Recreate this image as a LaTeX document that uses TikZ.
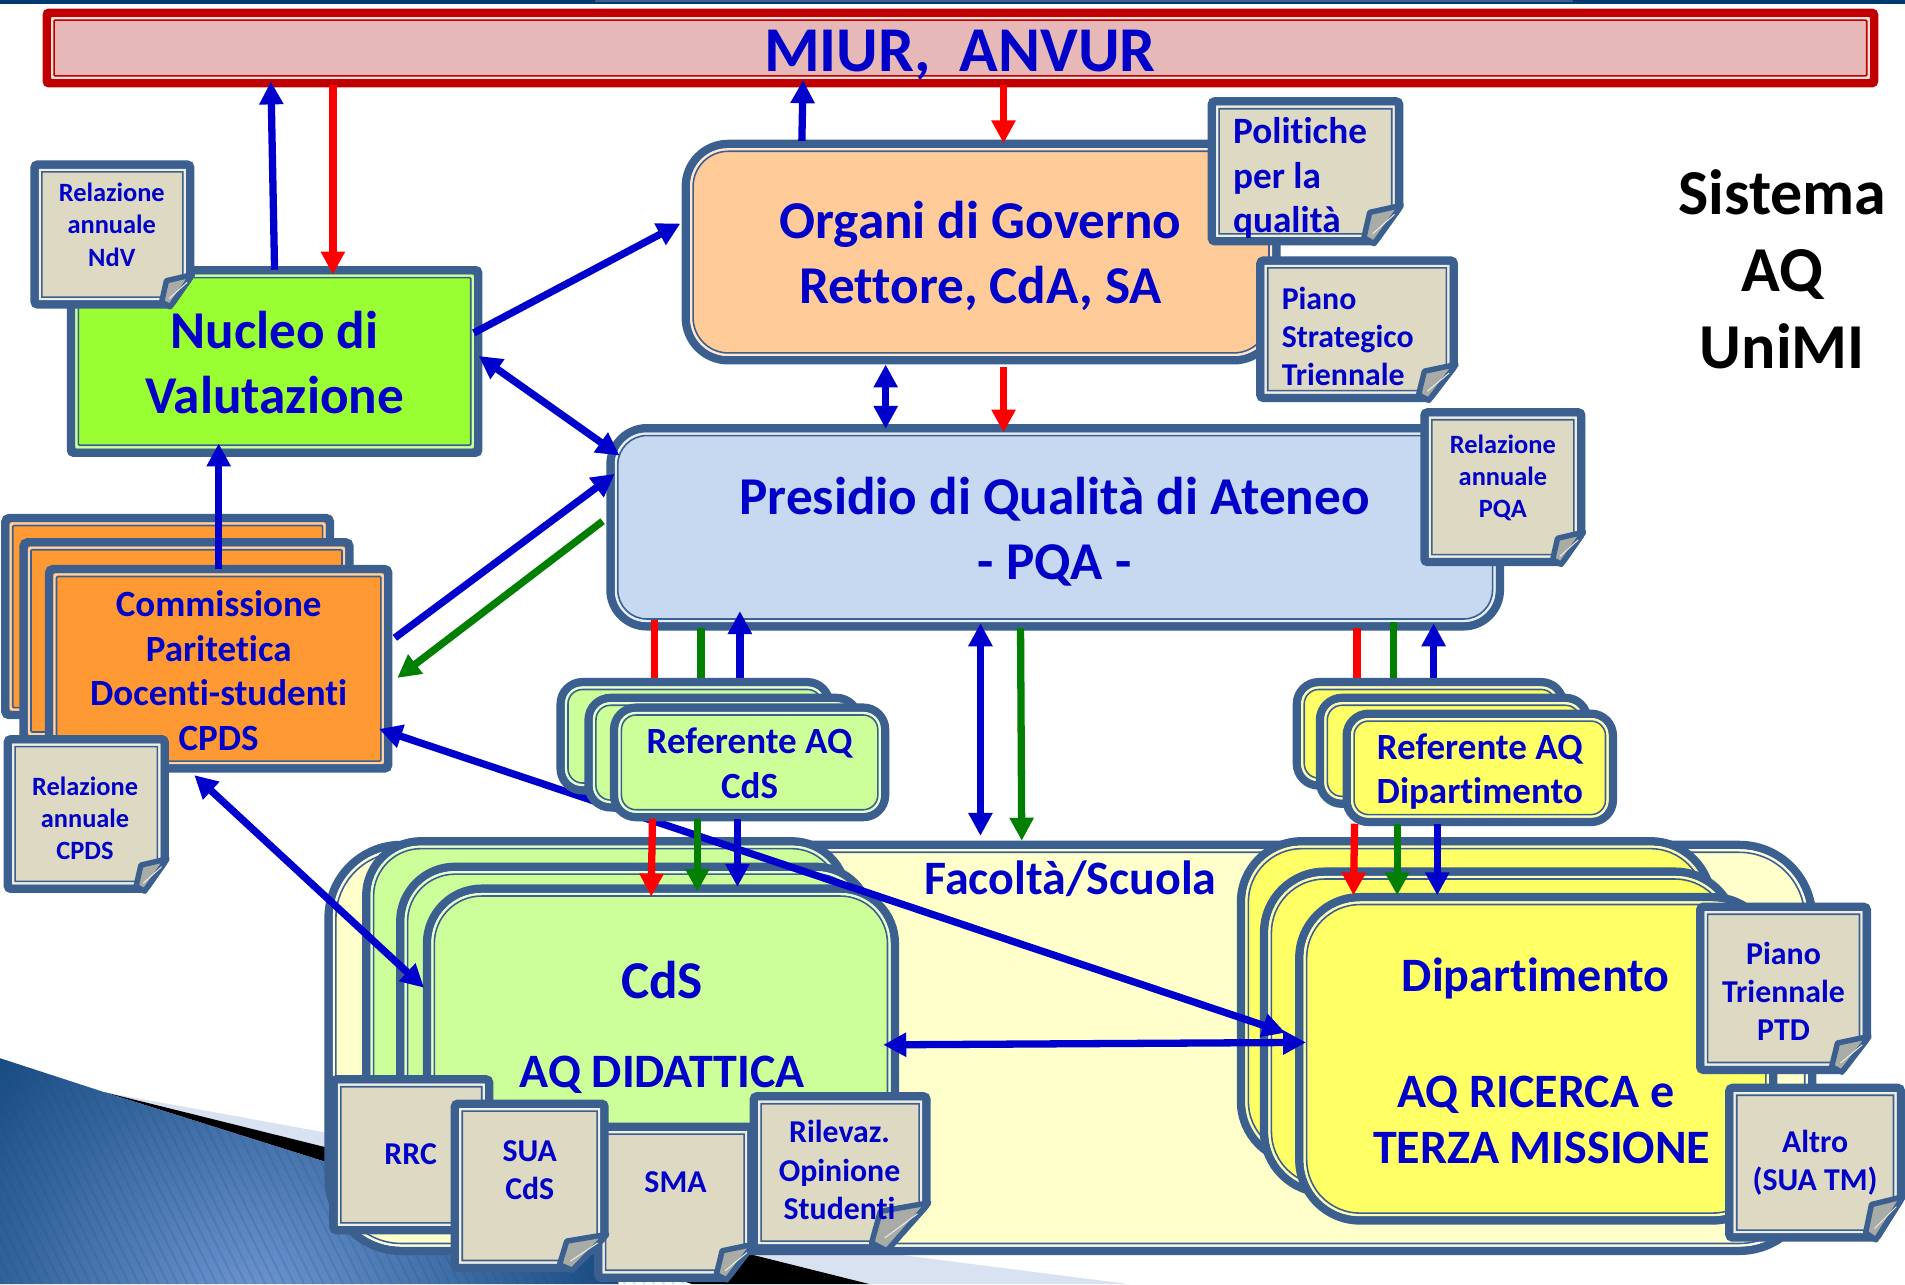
\documentclass[tikz,border=0pt]{standalone}
\usepackage{fontspec}
\setmainfont{Carlito}[Ligatures=NoCommon]
\usetikzlibrary{arrows.meta,calc}
\def\un{0.6075pt}
\definecolor{edge}{HTML}{3B6090}
\definecolor{ink}{HTML}{0000C8}
\definecolor{arrowblue}{HTML}{0000CC}
\definecolor{arrowgreen}{HTML}{007F00}
\definecolor{arrowred}{HTML}{FF0000}
\definecolor{barred}{HTML}{C00000}
\definecolor{barfill}{HTML}{E6B8B7}
\definecolor{pagefill}{HTML}{DDD9C3}
\definecolor{flapfill}{HTML}{A9ABA6}
\definecolor{nucleofill}{HTML}{99FF33}
\definecolor{organifill}{HTML}{FFCC99}
\definecolor{pqafill}{HTML}{C6D9F1}
\definecolor{cpdsfill}{HTML}{FF9933}
\definecolor{cdsfill}{HTML}{CCFF99}
\definecolor{depfill}{HTML}{FFFF66}
\definecolor{facfill}{HTML}{FFFFCC}
\definecolor{stripdark}{HTML}{003A70}
\definecolor{palewedge}{HTML}{D9E2F0}
\definecolor{swooshdark}{HTML}{174A80}
\definecolor{swooshlight}{HTML}{7098D4}
\definecolor{stripe}{HTML}{1C4F88}
\tikzset{
  panel/.style={rectangle,line width=7*\un,inner sep=0pt},
  lettering/.style 2 args={font=\fontsize{#1}{#2}\selectfont\bfseries},
  lbl/.style={align=center,inner sep=0pt,outer sep=0pt,text=ink},
  lblleft/.style={align=left,inner sep=0pt,outer sep=0pt,text=ink,anchor=west},
  conn/.style={line width=6*\un,-{Triangle[length=11.5pt,width=11.5pt]}},
  conntwo/.style={line width=6*\un,{Triangle[length=11.5pt,width=11.5pt]}-{Triangle[length=11.5pt,width=11.5pt]}},
  connplain/.style={line width=6*\un},
}
% [edge colour] name x1 y1 x2 y2 radius fill
\newcommand{\dblbox}[8][edge]{%
  \node[panel,draw=#1,fill=#8,rounded corners={(#7)*\un},
    minimum width={(#5-#3-7)*\un},minimum height={(#6-#4-7)*\un}]
    (#2) at ({(#3+#5)/2},{(#4+#6)/2}) {};
  \draw[draw=#8!45!white,line width=2*\un,rounded corners={max(#7-5,1)*\un}]
    ({#3+8},{#4+8}) rectangle ({#5-8},{#6-8});
  \draw[draw=#1,line width=1.3*\un,rounded corners={max(#7-6,1)*\un}]
    ({#3+9.5},{#4+9.5}) rectangle ({#5-9.5},{#6-9.5});
}
% x1 y1 x2 y2 foldw foldh
\newcommand{\docpage}[6]{%
  \draw[draw=edge,fill=pagefill,line width=7*\un,rounded corners=1.5pt]
    ({#1+3.5},{#2+3.5}) -- ({#3-3.5},{#2+3.5}) -- ({#3-3.5},{#4-#6}) -- ({#3-#5},{#4-3.5}) -- ({#1+3.5},{#4-3.5}) -- cycle;
  \draw[draw=pagefill!45!white,line width=2*\un]
    ({#1+8},{#2+8}) -- ({#3-8},{#2+8}) -- ({#3-8},{#4-#6}) -- ({#3-#5},{#4-8}) -- ({#1+8},{#4-8}) -- cycle;
  \draw[draw=edge,line width=1.3*\un]
    ({#1+9.5},{#2+9.5}) -- ({#3-9.5},{#2+9.5}) -- ({#3-9.5},{#4-#6}) -- ({#3-#5},{#4-9.5}) -- ({#1+9.5},{#4-9.5}) -- cycle;
  \draw[draw=edge,fill=flapfill,line width=4.5*\un,line join=round]
    ({#3-1.5},{#4-#6-1}) -- ({#3-1.15*#5},{#4-0.85*#6}) -- ({#3-1.35*#5},{#4-0.2*#6}) -- ({#3-#5},{#4-1.5}) -- cycle;
  \draw[draw=pagefill!45!white,line width=0.8*\un]
    ({#3-0.3*#5},{#4-0.8*#6}) -- ({#3-1.05*#5},{#4-0.3*#6});
}
\begin{document}
\begin{tikzpicture}[x=\un,y=-\un]
\useasboundingbox (0,0) rectangle (1568,1057);
\fill[white] (0,0) rectangle (1568,1057);
% top strip
\fill[stripdark] (0,0) rectangle (1568,3.5);
\fill[edge] (490,0) rectangle (1295,2);
% swoosh
\fill[palewedge] (86,899) -- (267,932) -- (640,1020) -- (930,1057) -- (570,1057) -- cycle;
\fill[black] (86,899) -- (267,944) -- (620,1033) -- (716,1057) -- (570,1057) -- (267,956) -- cycle;
\begin{scope}
  \clip (0,871) -- (86,899) -- (267,956) -- (570,1057) -- (0,1057) -- cycle;
  \shade[inner color=swooshlight,outer color=swooshdark] (210,1080) circle (300);
  \foreach \sx in {-120,-112,...,600} {
    \draw[stripe,opacity=0.18,line width=1.6*\un] (\sx,860) -- ({\sx+100},1060);
  }
\end{scope}

% MIUR bar
\dblbox[barred]{miur}{35}{7}{1546}{72}{2}{barfill}
\node[lbl,lettering={31.9pt}{39pt}] (tmiur) at (790,45.5) {MIUR,\ \ ANVUR};

% Facolta
\dblbox{fac}{267}{692}{1495}{1033}{60}{facfill}
\node[lbl,lettering={24pt}{29pt}] (tfac) at (881,723) {Facoltà/Scuola};

% CdS stack
\dblbox{cdsA}{298}{689}{700}{1000}{45}{cdsfill}
\dblbox{cdsB}{326}{710}{720}{1010}{45}{cdsfill}
\dblbox{cds}{348}{728}{740}{1020}{45}{cdsfill}
\node[lbl,lettering={26.6pt}{32pt}] (tcds) at (545,807) {CdS};
\node[lbl,lettering={24pt}{29pt}] (tcdsaq) at (545,885) {AQ DIDATTICA};

% Dipartimento stack
\dblbox{depA}{1018}{689}{1412}{960}{50}{depfill}
\dblbox{depB}{1037}{714}{1432}{985}{50}{depfill}
\dblbox{dep}{1066}{735}{1463}{1008}{50}{depfill}
\node[lbl,lettering={24pt}{29pt}] (tdep) at (1264,805) {Dipartimento};
\node[lbl,lettering={24pt}{29pt}] (tdepaq) at (1264,901) {AQ RICERCA e};
\node[lbl,lettering={24pt}{29pt}] (tdepterza) at (1269,945) {TERZA MISSIONE};

% Nucleo
\dblbox{nucleo}{55}{219}{397}{376}{2}{nucleofill}
\node[lbl,lettering={26.6pt}{32.2pt}] (tnucleo) at (226,298.5) {Nucleo di\\Valutazione};

% Organi
\dblbox{organi}{561}{115}{1054}{300}{35}{organifill}
\node[lbl,lettering={26.6pt}{32.2pt}] (torgani) at (807,210.5) {Organi di Governo\\Rettore, CdA, SA};

% Presidio
\dblbox{pqa}{499}{349}{1238}{519}{30}{pqafill}
\node[lbl,lettering={26.6pt}{32.2pt}] (tpqa) at (868,437.5) {Presidio di Qualità di Ateneo\\- PQA -};

% CPDS stack
\dblbox{cpdsA}{1}{423}{275}{592}{3}{cpdsfill}
\dblbox{cpdsB}{16}{443}{291}{612}{3}{cpdsfill}
\dblbox{cpds}{37}{465}{323}{636}{3}{cpdsfill}
\node[lbl,lettering={18.5pt}{22.3pt}] (tcpds) at (180,552) {Commissione\\Paritetica\\Docenti-studenti\\CPDS};

% long connectors that pass behind the Referente boxes
\draw[conntwo,arrowblue] ($(cpds.east |- 0,600)+(-11,0)$) -- ($(dep.west |- 0,850)+(-8,0)$);
\draw[conntwo,arrowblue] ($(cpds.south -| 160,0)+(0,2)$) -- ($(cds.west |- 0,813)+(1,0)$);
\draw[conntwo,arrowblue] ($(cds.east |- 0,860)+(-13,0)$) -- ($(dep.west |- 0,858)+(9,0)$);

% connectors Presidio -- Referente
\draw[connplain,arrowred] ($(pqa.south -| 539,0)+(0,-9)$) -- (539,570);
\draw[connplain,arrowgreen] ($(pqa.south -| 577,0)+(0,-2)$) -- (577,570);
\draw[conn,arrowblue] (609,570) -- ($(pqa.south -| 609,0)+(0,-16)$);
\draw[connplain,arrowred] ($(pqa.south -| 1117,0)+(0,-2)$) -- (1117,570);
\draw[connplain,arrowgreen] ($(pqa.south -| 1147,0)+(0,-7)$) -- (1147,570);
\draw[conn,arrowblue] (1180,570) -- ($(pqa.south -| 1180,0)+(0,-6)$);

% Referente stacks
\dblbox{refcA}{458}{558}{686}{654}{18}{cdsfill}
\dblbox{refcB}{481}{571}{710}{668}{18}{cdsfill}
\dblbox{refc}{502}{579}{732}{676}{18}{cdsfill}
\node[lbl,lettering={18.5pt}{22.3pt}] (trefc) at (617,628) {Referente AQ\\CdS};
\dblbox{refdA}{1064}{558}{1290}{650}{18}{depfill}
\dblbox{refdB}{1083}{571}{1310}{665}{18}{depfill}
\dblbox{refd}{1105}{584}{1331}{680}{18}{depfill}
\node[lbl,lettering={18.5pt}{22.3pt}] (trefd) at (1218,635) {Referente AQ\\Dipartimento};

% connectors Referente -- CdS / Dipartimento
\draw[conn,arrowred] ($(refc.south -| 537,0)+(0,-2)$) -- ($(cds.north -| 536,0)+(0,10)$);
\draw[conn,arrowgreen] ($(refc.south -| 574,0)+(0,-2)$) -- ($(cds.north -| 574,0)+(0,6)$);
\draw[conn,arrowblue] ($(refc.south -| 607,0)+(0,-2)$) -- ($(cds.north -| 607,0)+(0,2)$);
\draw[conn,arrowred] ($(refd.south -| 1115,0)+(0,-2)$) -- ($(dep.north -| 1114,0)+(0,2)$);
\draw[conn,arrowgreen] ($(refd.south -| 1150,0)+(0,-2)$) -- ($(dep.north -| 1150,0)+(0,2)$);
\draw[conn,arrowblue] ($(refd.south -| 1183,0)+(0,-2)$) -- ($(dep.north -| 1183,0)+(0,2)$);

% other connectors
\draw[conn,arrowblue] ($(nucleo.north -| 226,0)+(0,3)$) -- ($(miur.south -| 223,0)+(0,-5)$);
\draw[conn,arrowred] ($(miur.south -| 274,0)+(0,-2)$) -- ($(nucleo.north -| 274,0)+(0,7)$);
\draw[conn,arrowblue] ($(organi.north -| 660,0)+(0,1)$) -- ($(miur.south -| 661,0)+(0,-6)$);
\draw[conn,arrowred] ($(miur.south -| 826,0)+(0,-2)$) -- ($(organi.north -| 826,0)+(0,3)$);
\draw[conn,arrowblue] ($(nucleo.east |- 0,274)+(-7,0)$) -- ($(organi.west |- 0,184)+(-1,0)$);
\draw[conntwo,arrowblue] ($(nucleo.east |- 0,293)+(-3,0)$) -- ($(pqa.west |- 0,375)+(11,0)$);
\draw[conntwo,arrowblue] (organi.south -| 729,0) -- ($(pqa.north -| 729,0)+(0,4)$);
\draw[conn,arrowred] ($(organi.south -| 826,0)+(0,2)$) -- ($(pqa.north -| 826,0)+(0,7)$);
\draw[conn,arrowblue] ($(cpds.east |- 0,525)+(2,0)$) -- ($(pqa.west |- 0,390)+(7,0)$);
\draw[conn,arrowgreen] ($(pqa.west |- 0,429)+(-3,0)$) -- ($(cpds.east |- 0,558)+(4,0)$);
\draw[conn,arrowblue] ($(cpds.north -| 180,0)+(0,3)$) -- ($(nucleo.south -| 180,0)+(0,-11)$);
\draw[conntwo,arrowblue] ($(pqa.south -| 807,0)+(0,-6)$) -- ($(fac.north -| 807,0)+(0,-4)$);
\draw[conn,arrowgreen] ($(pqa.south -| 840,0)+(0,-2)$) -- (fac.north -| 841,0);

% document pages
\docpage{25}{132}{160}{254}{20}{27}
\node[lbl,lettering={13.2pt}{16.1pt}] (tndv) at (92,185) {Relazione\\annuale\\NdV};
\docpage{994}{80}{1155}{202}{24}{32}
\node[lblleft,lettering={18.6pt}{22.3pt}] (tpol) at (1015,146.5) {Politiche\\per la\\qualità};
\docpage{1034}{211}{1200}{331}{24}{30}
\node[lblleft,lettering={15.9pt}{19.1pt}] (tpst) at (1055,277) {Piano\\Strategico\\Triennale};
\docpage{1169}{336}{1305}{466}{20}{27}
\node[lbl,lettering={13.2pt}{16.1pt}] (trpqa) at (1237,393.5) {Relazione\\annuale\\PQA};
\docpage{3}{605}{139}{735}{20}{27}
\node[lbl,lettering={13.2pt}{16.1pt}] (trcp) at (70,673.5) {Relazione\\annuale\\CPDS};
\docpage{271}{885}{406}{1016}{24}{30}
\node[lbl,lettering={15.9pt}{19.1pt}] (trrc) at (338,950) {RRC};
\docpage{489}{924}{622}{1055}{24}{30}
\node[lbl,lettering={15.9pt}{19.1pt}] (tsma) at (556,973) {SMA};
\docpage{371}{905}{501}{1047}{30}{30}
\node[lbl,lettering={15.9pt}{19.1pt}] (tsua) at (436,963) {SUA\\CdS};
\docpage{617}{899}{766}{1031}{36}{40}
\node[lbl,lettering={15.9pt}{19.1pt}] (tril) at (691,963) {Rilevaz.\\Opinione\\Studenti};
\docpage{1396}{743}{1540}{884}{24}{30}
\node[lbl,lettering={15.9pt}{19.1pt}] (tptd) at (1468,816) {Piano\\Triennale\\PTD};
\docpage{1420}{892}{1568}{1022}{24}{36}
\node[lbl,lettering={15.9pt}{19.1pt}] (talt) at (1494,957) {Altro\\(SUA TM)};

% title
\node[align=center,inner sep=0pt,text=black,lettering={32pt}{38.6pt}] (tsis) at (1467,221.5) {Sistema\\AQ\\UniMI};
\end{tikzpicture}
\end{document}
